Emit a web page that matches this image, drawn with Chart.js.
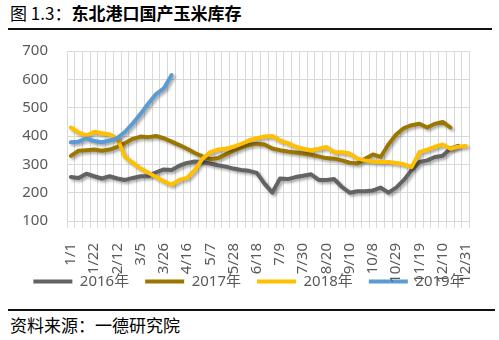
<!DOCTYPE html>
<html>
<head>
<meta charset="utf-8">
<script src="https://cdn.jsdelivr.net/npm/chart.js@4.4.0/dist/chart.umd.min.js"></script>
<style>
  body { margin: 0; width: 499px; height: 340px; background: #fff; position: relative; overflow: hidden;
         font-family: 'Noto Sans CJK SC', 'Noto Sans', sans-serif; }
  #title { position: absolute; left: 10px; top: 3px; font-size: 17px; line-height: 20px; color: #000; white-space: nowrap; }
  #title b { font-weight: 700; }
  #bar { position: absolute; left: 8px; top: 28px; width: 484px; height: 2px; background: #111; }
  #box { position: absolute; left: 0; top: 23px; width: 499px; height: 276px; }
  #rule { position: absolute; left: 8px; top: 309px; width: 487px; height: 2px; background: #111; }
  #src { position: absolute; left: 10px; top: 315px; font-size: 17px; line-height: 20px; color: #000; white-space: nowrap; }
</style>
</head>
<body>
<div id="title">图 1.3：<b>东北港口国产玉米库存</b></div>
<div id="bar"></div>
<div id="box"><canvas id="canvas"></canvas></div>
<div id="rule"></div>
<div id="src">资料来源：一德研究院</div>
<script>
// weekly dates (no 10/1 week)
var weeks = ['1/1','1/8','1/15','1/22','1/29','2/5','2/12','2/19','2/26','3/5','3/12','3/19','3/26',
  '4/2','4/9','4/16','4/23','4/30','5/7','5/14','5/21','5/28','6/4','6/11','6/18','6/25',
  '7/2','7/9','7/16','7/23','7/30','8/6','8/13','8/20','8/27','9/3','9/10','9/17','9/24',
  '10/8','10/15','10/22','10/29','11/5','11/12','11/19','11/26','12/3','12/10','12/17','12/24','12/31'];

var y2016 = [255,252,267,258,250,258,250,245,252,258,258,272,282,280,295,305,310,308,303,297,
  292,285,280,277,270,232,200,250,248,255,260,265,245,245,248,220,200,205,205,208,
  218,200,218,245,280,308,314,326,330,355,365];
var y2017 = [330,348,350,352,348,352,362,375,390,398,396,400,392,380,368,355,340,328,318,322,
  335,348,360,368,373,370,356,350,345,342,338,334,328,322,320,314,306,303,320,335,
  326,370,405,428,438,443,430,443,450,430];
var y2018 = [430,412,402,415,410,405,392,325,305,285,270,255,240,228,245,252,280,320,343,352,
  355,362,372,385,392,398,400,384,375,362,355,350,355,361,343,343,338,320,314,310,
  308,308,305,300,290,343,352,362,370,355,362,365];
var y2019 = [378,380,392,382,378,384,393,415,445,478,515,548,568,615];

var seriesNames = ['2016年','2017年','2018年','2019年'];
var seriesColors = ['#636363','#9c7700','#ffc000','#5b9bd5'];
var yTicks = [100,200,300,400,500,600,700];

var axisFont = { family: "'Noto Sans', 'Noto Sans CJK SC', sans-serif", size: 15 };
var grey = '#595959';
var gridColor = '#d9d9d9';

// excel-ish drop shadow under the lines
var shadow = {
  id: 'shadow',
  beforeDatasetDraw: function (chart) {
    var c = chart.ctx;
    c.save();
    c.shadowColor = 'rgba(0,0,0,0.35)';
    c.shadowBlur = 3;
    c.shadowOffsetX = 2;
    c.shadowOffsetY = 2;
  },
  afterDatasetDraw: function (chart) { chart.ctx.restore(); }
};

// let the rotated date labels run down over the legend, like the excel original
var labelRoom = {
  id: 'labelRoom',
  afterLayout: function (chart) { chart.scales.x.bottom = chart.height; }
};

function makeSet(i, data) {
  return {
    label: seriesNames[i], data: data,
    borderColor: seriesColors[i], backgroundColor: seriesColors[i],
    borderWidth: 4, pointRadius: 0, tension: 0,
    borderCapStyle: 'round', borderJoinStyle: 'round',
    order: 4 - i
  };
}

new Chart(document.getElementById('canvas'), {
  type: 'line',
  data: {
    labels: weeks,
    datasets: [makeSet(0, y2016), makeSet(1, y2017), makeSet(2, y2018), makeSet(3, y2019)]
  },
  plugins: [shadow, labelRoom],
  options: {
    responsive: true,
    maintainAspectRatio: false,
    animation: false,
    layout: { padding: { left: 15, right: 16, top: 16, bottom: 0 } },
    plugins: {
      tooltip: { enabled: false },
      legend: {
        position: 'bottom',
        labels: {
          boxWidth: 39, boxHeight: 4, padding: 16, color: grey, font: axisFont,
          sort: function (a, b) { return a.datasetIndex - b.datasetIndex; },
          generateLabels: function (chart) {
            var items = Chart.defaults.plugins.legend.labels.generateLabels(chart);
            items.forEach(function (it) { it.lineWidth = 0; });
            return items;
          }
        }
      }
    },
    scales: {
      x: {
        offset: true,
        grid: { offset: true, color: gridColor, tickLength: 7, drawTicks: true },
        border: { color: gridColor },
        ticks: {
          autoSkip: false, minRotation: 90, maxRotation: 90, padding: 15,
          color: grey, font: axisFont,
          callback: function (v, i) { return i % 3 === 0 ? weeks[i] : ''; }
        },
        afterFit: function (scale) { scale.height = 37; }
      },
      y: {
        min: 100, max: 700,
        afterBuildTicks: function (scale) { scale.ticks = yTicks.map(function (v) { return { value: v }; }); },
        grid: { color: gridColor, drawTicks: false },
        border: { color: gridColor },
        ticks: { autoSkip: false, padding: 19, color: grey, font: axisFont },
        afterFit: function (scale) { scale.width = 52; }
      }
    }
  }
});
</script>
</body>
</html>
